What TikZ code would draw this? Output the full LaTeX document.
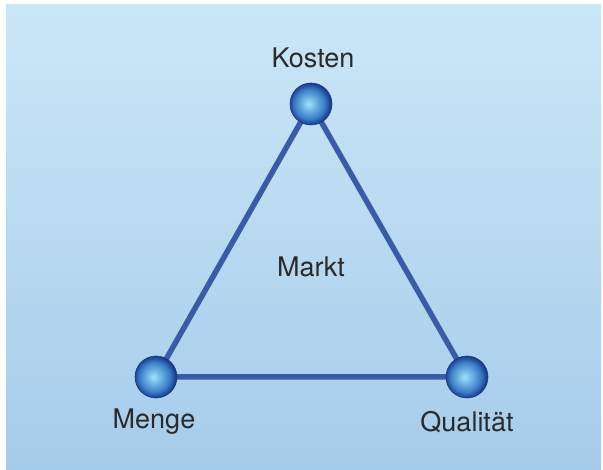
\documentclass[tikz,border=0pt]{standalone}
\usepackage{fontspec}
\setmainfont{TeX Gyre Heros}
\definecolor{bgtop}{HTML}{CAE7F6}
\definecolor{bgbot}{HTML}{A6CCEB}
\definecolor{edgeblue}{HTML}{3A5CA8}
\definecolor{ballin}{HTML}{9BE6F8}
\definecolor{ballmid}{HTML}{3A7CC8}
\definecolor{ballout}{HTML}{1A3A85}
\definecolor{txt}{HTML}{2A2A2A}
\pgfdeclareradialshading{myball}{\pgfpoint{-3bp}{0bp}}{%
  color(0bp)=(ballin); color(7bp)=(ballin!60!ballmid); color(18bp)=(ballmid); color(25bp)=(ballout); color(50bp)=(ballout)}
\tikzset{
  vtx/.style={circle, minimum size=42pt, inner sep=0pt, shading=myball, draw=ballout, line width=0.6pt},
  lbl/.style={font=\fontsize{27pt}{30pt}\selectfont, text=txt, inner sep=0pt},
  edge/.style={draw=edgeblue, line width=5.5pt}
}
\begin{document}
\begin{tikzpicture}[x=1pt,y=-1pt]
\useasboundingbox (0,0) rectangle (603,470);
\fill[white] (0,0) rectangle (603,470);
\shade[top color=bgtop, bottom color=bgbot] (6,5) rectangle (601,470);
\coordinate (K) at (311,104);
\coordinate (M) at (156,377);
\coordinate (Q) at (467,377);
\draw[edge, line join=round] (K) -- (M) -- (Q) -- cycle;
\node[vtx] (k) at (K) {};
\node[vtx] (m) at (M) {};
\node[vtx] (q) at (Q) {};
\node[lbl] (kl) at (313,58) {Kosten};
\node[lbl] (ml) at (154,422) {Menge};
\node[lbl] (ql) at (467,422) {Qualität};
\node[lbl] (mk) at (311,267) {Markt};
\end{tikzpicture}
\end{document}
